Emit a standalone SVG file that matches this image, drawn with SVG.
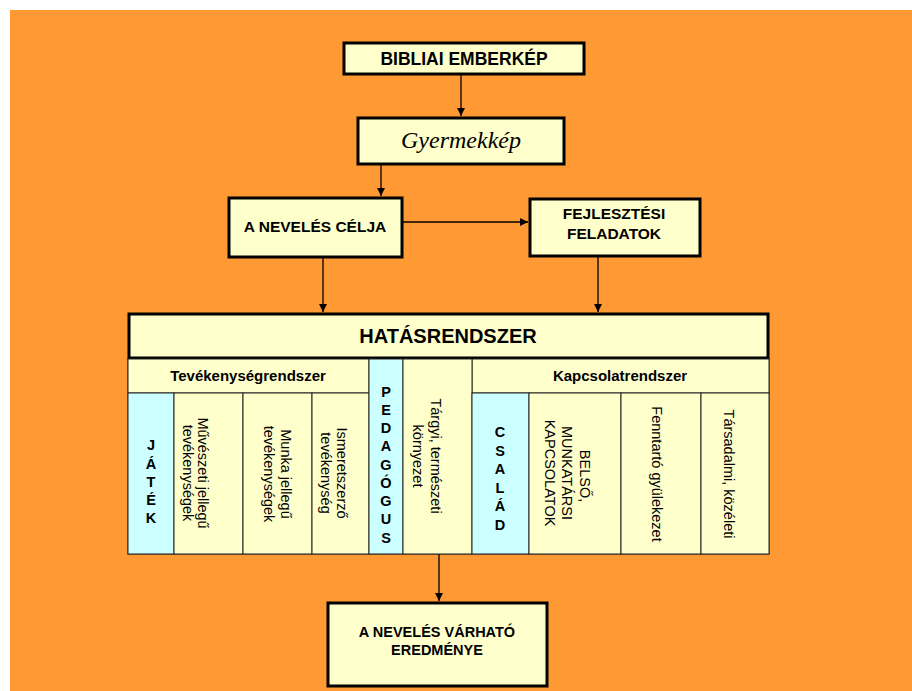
<svg xmlns="http://www.w3.org/2000/svg" width="912" height="691" viewBox="0 0 912 691">
<defs>
<marker id="ah" viewBox="0 0 10 10" refX="10" refY="5" markerWidth="8" markerHeight="8" markerUnits="userSpaceOnUse" orient="auto">
<path d="M0,0 L10,5 L0,10 z" fill="#000"/>
</marker>
<style>
.box{fill:#FFFFCC;stroke:#000;stroke-width:3}
.cell{fill:#FFFFCC;stroke:#222;stroke-width:1}
.blue{fill:#CCFFFF;stroke:#222;stroke-width:1}
.b{font-family:"Liberation Sans",Arial,sans-serif;font-weight:bold;fill:#000;text-anchor:middle}
.r{font-family:"Liberation Sans",Arial,sans-serif;fill:#000;text-anchor:middle;font-size:14.5px}
.con{stroke:#000;stroke-width:1.3;fill:none;marker-end:url(#ah)}
</style>
</defs>
<rect x="0" y="0" width="912" height="691" fill="#fff"/>
<rect x="10" y="10" width="902" height="681" fill="#FF9933"/>

<g id="connectors">
<line class="con" x1="461" y1="75" x2="461" y2="116"/>
<line class="con" x1="381" y1="165" x2="381" y2="196"/>
<line class="con" x1="403" y1="222" x2="528" y2="222"/>
<line class="con" x1="323" y1="258" x2="323" y2="312"/>
<line class="con" x1="598" y1="257" x2="598" y2="312"/>
<line class="con" x1="439" y1="554" x2="439" y2="601"/>
</g>

<g id="bibliai">
<rect class="box" x="344" y="43" width="240" height="31"/>
<text class="b" x="464" y="65" font-size="17.5">BIBLIAI EMBERKÉP</text>
</g>

<g id="gyermekkep">
<rect class="box" x="358" y="118" width="206" height="46"/>
<text x="461" y="148" font-family="'Liberation Serif',serif" font-style="italic" font-size="24" text-anchor="middle" fill="#000">Gyermekkép</text>
</g>

<g id="celja">
<rect class="box" x="229" y="198" width="173" height="59"/>
<text class="b" x="315" y="232" font-size="15.5">A NEVELÉS CÉLJA</text>
</g>

<g id="fejlesztesi">
<rect class="box" x="530" y="199" width="170" height="57"/>
<text class="b" x="614" y="219" font-size="15.5">FEJLESZTÉSI</text>
<text class="b" x="614" y="239" font-size="15.5">FELADATOK</text>
</g>

<g id="hatasrendszer">
<rect class="cell" x="128" y="359" width="641" height="195"/>
<rect class="box" x="129" y="314" width="639" height="44"/>
<text class="b" x="448" y="343" font-size="20">HATÁSRENDSZER</text>
</g>

<g id="tevekenyseg">
<rect class="cell" x="128" y="359" width="241" height="34"/>
<text class="b" x="248" y="381" font-size="15">Tevékenységrendszer</text>
</g>

<g id="kapcsolat">
<rect class="cell" x="472" y="359" width="297" height="34"/>
<text class="b" x="620" y="381" font-size="15">Kapcsolatrendszer</text>
</g>

<g id="jatek">
<rect class="blue" x="128" y="393" width="46" height="161"/>
<g class="b" font-size="14.5">
<text x="151" y="450">J</text>
<text x="151" y="469">Á</text>
<text x="151" y="487">T</text>
<text x="151" y="505">É</text>
<text x="151" y="523">K</text>
</g>
</g>

<g id="muveszeti">
<rect class="cell" x="174" y="393" width="69" height="161"/>
<text class="r" transform="translate(198,473) rotate(90)">Művészeti jellegű</text>
<text class="r" transform="translate(183,473) rotate(90)">tevékenységek</text>
</g>

<g id="munka">
<rect class="cell" x="243" y="393" width="69" height="161"/>
<text class="r" transform="translate(281,474) rotate(90)">Munka jellegű</text>
<text class="r" transform="translate(264,474) rotate(90)">tevékenységek</text>
</g>

<g id="ismeret">
<rect class="cell" x="312" y="393" width="57" height="161"/>
<text class="r" font-size="13.5" transform="translate(337,473) rotate(90)">Ismeretszerző</text>
<text class="r" font-size="13.5" transform="translate(321,473) rotate(90)">tevékenység</text>
</g>

<g id="pedagogus">
<rect class="blue" x="369" y="359" width="34" height="195"/>
<g class="b" font-size="14.5">
<text x="386" y="397">P</text>
<text x="386" y="415">E</text>
<text x="386" y="433">D</text>
<text x="386" y="451">A</text>
<text x="386" y="470">G</text>
<text x="386" y="488">Ó</text>
<text x="386" y="506">G</text>
<text x="386" y="524">U</text>
<text x="386" y="543">S</text>
</g>
</g>

<g id="targyi">
<rect class="cell" x="403" y="359" width="69" height="195"/>
<text class="r" transform="translate(431,456) rotate(90)">Tárgyi, természeti</text>
<text class="r" transform="translate(413,456) rotate(90)">környezet</text>
</g>

<g id="csalad">
<rect class="blue" x="472" y="393" width="57" height="161"/>
<g class="b" font-size="14.5">
<text x="500" y="437">C</text>
<text x="500" y="456">S</text>
<text x="500" y="474">A</text>
<text x="500" y="493">L</text>
<text x="500" y="511">Á</text>
<text x="500" y="530">D</text>
</g>
</g>

<g id="belso">
<rect class="cell" x="529" y="393" width="92" height="161"/>
<text class="r" font-size="14" transform="translate(580,476) rotate(90)">BELSŐ,</text>
<text class="r" font-size="14" transform="translate(562,473) rotate(90)">MUNKATÁRSI</text>
<text class="r" font-size="14" transform="translate(545,473) rotate(90)">KAPCSOLATOK</text>
</g>

<g id="fenntarto">
<rect class="cell" x="621" y="393" width="80" height="161"/>
<text class="r" transform="translate(652,474) rotate(90)">Fenntartó gyülekezet</text>
</g>

<g id="tarsadalmi">
<rect class="cell" x="701" y="393" width="68" height="161"/>
<text class="r" transform="translate(724,474) rotate(90)">Társadalmi, közéleti</text>
</g>

<g id="eredmeny">
<rect class="box" x="328" y="603" width="219" height="83"/>
<text class="b" x="437" y="637" font-size="14.5">A NEVELÉS VÁRHATÓ</text>
<text class="b" x="437" y="655" font-size="14.5">EREDMÉNYE</text>
</g>
</svg>
